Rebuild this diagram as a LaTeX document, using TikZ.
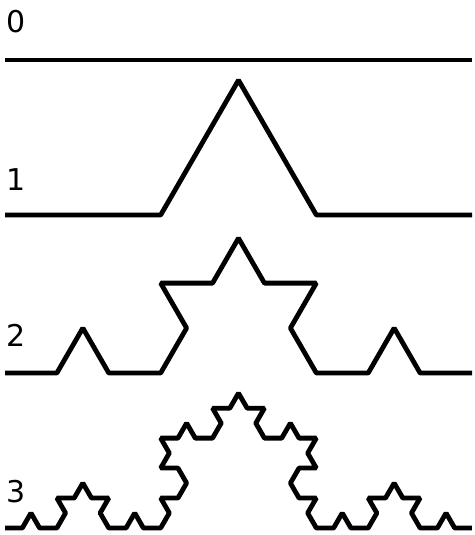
\documentclass[tikz,border=0pt]{standalone}
\usepackage{fontspec}
\setmainfont{DejaVu Sans}
\usetikzlibrary{lindenmayersystems}
\pgfdeclarelindenmayersystem{Koch}{\rule{F -> F+F--F+F}}
\tikzset{
  koch/.style={line width=4.8pt, line join=bevel, line cap=butt},
  lbl/.style={anchor=west, inner sep=0pt, font=\fontsize{30}{36}\selectfont}
}
\begin{document}
\begin{tikzpicture}[x=1pt,y=1pt]
\useasboundingbox (0,0) rectangle (474,535);
\node[lbl] (l0) at (6,513) {0};
\node[lbl] (l1) at (6,355) {1};
\node[lbl] (l2) at (6,200) {2};
\node[lbl] (l3) at (6,43) {3};
\draw[koch] (5,475) -- (472,475);
\begin{scope}[shift={(5,320)}]
\draw[koch, l-system={Koch, axiom=F, order=1, step=155.667pt, angle=60}] lindenmayer system;
\end{scope}
\begin{scope}[shift={(5,162)}]
\draw[koch, l-system={Koch, axiom=F, order=2, step=51.889pt, angle=60}] lindenmayer system;
\end{scope}
\begin{scope}[shift={(5,7)}]
\draw[koch, l-system={Koch, axiom=F, order=3, step=17.296pt, angle=60}] lindenmayer system;
\end{scope}
\end{tikzpicture}
\end{document}
